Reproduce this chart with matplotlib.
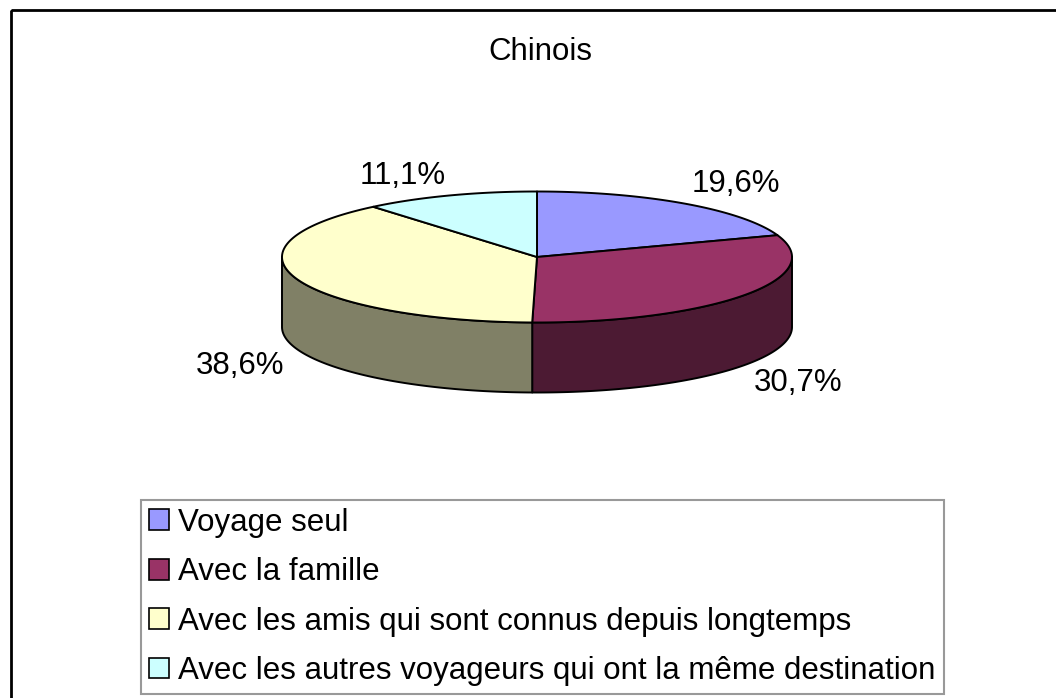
import numpy as np
import matplotlib.pyplot as plt
from matplotlib.patches import Polygon, Patch, Rectangle

plt.rcParams['font.family'] = ['Liberation Sans', 'DejaVu Sans']

title = 'Chinois'
labels = ['Voyage seul',
          'Avec la famille',
          'Avec les amis qui sont connus depuis longtemps',
          'Avec les autres voyageurs qui ont la même destination']
values = [19.6, 30.7, 38.6, 11.1]
top_colors = ['#9999FF', '#993366', '#FFFFCC', '#CCFFFF']
side_colors = ['#4C4C80', '#4C1A33', '#808066', '#668080']

W, H = 1056, 698
cx, cy = 537, 257          # centre of the top face (pixels)
rx, ry = 255, 65.5         # ellipse radii
depth = 70                 # thickness of the disc
fs = 22.5

fig = plt.figure(figsize=(W / 100, H / 100), dpi=100)
ax = fig.add_axes([0, 0, 1, 1])
ax.set_xlim(0, W)
ax.set_ylim(H, 0)
ax.axis('off')

# outer chart frame
ax.add_patch(Rectangle((11, 10), W, H, fill=False, edgecolor='black', lw=2))

ax.text(540, 52, title, ha='center', va='center', fontsize=fs)


def rim(t):
    # t in radians, clockwise from 12 o'clock
    return cx + rx * np.sin(t), cy - ry * np.cos(t)


fr = np.array(values) / sum(values)
edges = np.concatenate([[0], np.cumsum(fr)]) * 2 * np.pi

# sides first (only the front half is visible)
for i in range(len(values)):
    a, b = max(edges[i], np.pi / 2), min(edges[i + 1], 3 * np.pi / 2)
    if b <= a:
        continue
    t = np.linspace(a, b, 100)
    x, y = rim(t)
    pts = np.column_stack([np.concatenate([x, x[::-1]]),
                           np.concatenate([y, y[::-1] + depth])])
    ax.add_patch(Polygon(pts, closed=True, facecolor=side_colors[i],
                         edgecolor='black', lw=1.4, joinstyle='round'))

# top face wedges
for i in range(len(values)):
    t = np.linspace(edges[i], edges[i + 1], 200)
    x, y = rim(t)
    pts = np.column_stack([np.concatenate([[cx], x]), np.concatenate([[cy], y])])
    ax.add_patch(Polygon(pts, closed=True, facecolor=top_colors[i],
                         edgecolor='black', lw=1.4, joinstyle='round'))

# percentage labels just outside the rim
for i, v in enumerate(values):
    m = (edges[i] + edges[i + 1]) / 2
    s, c = np.sin(m), np.cos(m)
    x = cx + 1.05 * rx * s
    y = cy - 1.08 * ry * c + (depth if c < 0 else 0)
    ax.text(x, y, f'{v:.1f}%'.replace('.', ','), fontsize=fs,
            ha='left' if s > 0 else 'right',
            va='bottom' if c > 0 else 'top')

handles = [Patch(facecolor=col, edgecolor='black', lw=1.2) for col in top_colors]
leg = fig.legend(handles, labels, loc='upper left',
                 bbox_to_anchor=(141 / W, 1 - 500 / H), bbox_transform=fig.transFigure,
                 fontsize=fs, frameon=True, fancybox=False, edgecolor='#808080',
                 handlelength=0.65, handleheight=0.65, handletextpad=0.3,
                 labelspacing=0.62, borderpad=0.25, borderaxespad=0)
leg.get_frame().set_linewidth(1.5)

fig.savefig('out.png', dpi=100)
